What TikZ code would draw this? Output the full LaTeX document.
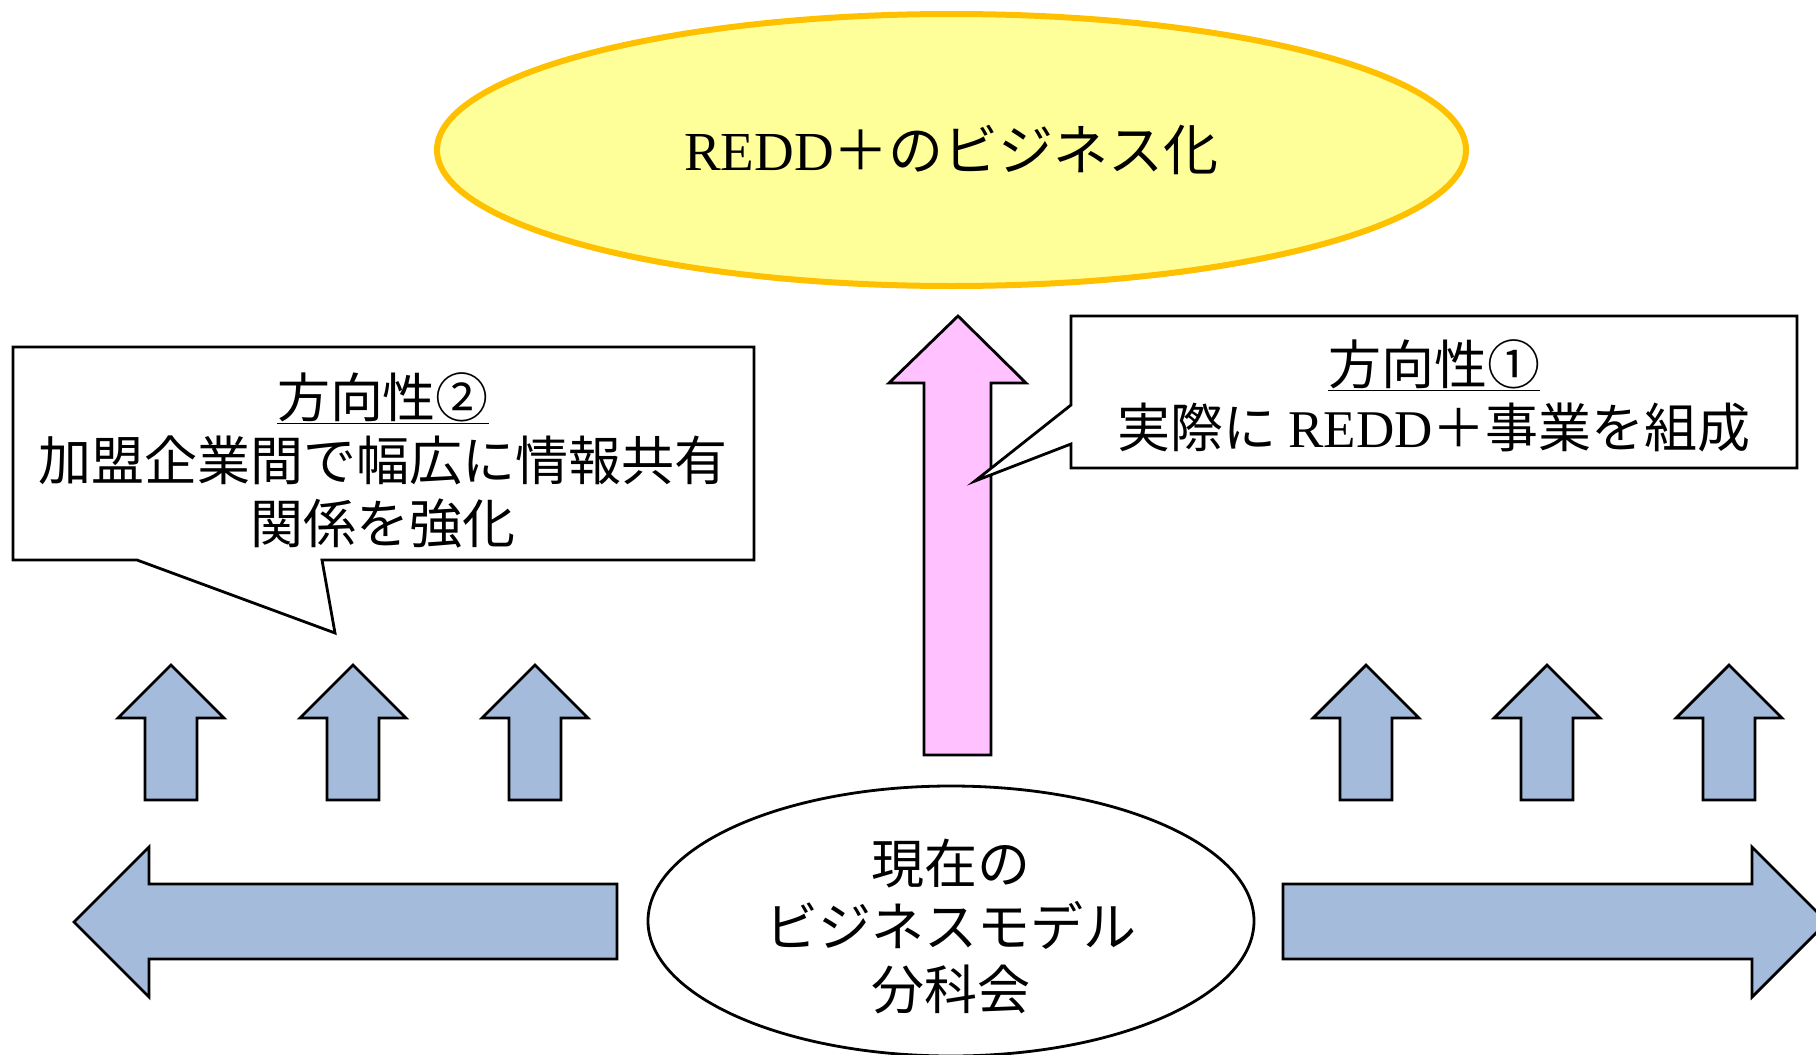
\documentclass[tikz,border=0pt]{standalone}
\usepackage{fontspec}
\setmainfont{Liberation Serif}
\newfontfamily\jp{Noto Sans CJK JP}
\usetikzlibrary{shapes.geometric}
\definecolor{arrowblue}{HTML}{A4BBDC}
\definecolor{arrowpink}{HTML}{FFC1FF}
\definecolor{goalfill}{HTML}{FFFF99}
\definecolor{goalline}{HTML}{FFC000}
\tikzset{
  outline/.style={draw=black, line width=2.8pt, line join=miter},
  bluearrow/.style={outline, fill=arrowblue},
  pinkarrow/.style={outline, fill=arrowpink},
  bigtext/.style={font=\jp\fontsize{53pt}{63pt}\selectfont, align=center, inner sep=0pt},
  uparrowpic/.pic={\draw[bluearrow] (0,0) -- (53,53) -- (26,53) -- (26,135) -- (-26,135) -- (-26,53) -- (-53,53) -- cycle;}
}
\begin{document}
\begin{tikzpicture}[x=1pt,y=-1pt]
\useasboundingbox (0,0) rectangle (1816,1055);
\clip (0,0) rectangle (1816,1055);

% goal ellipse
\node[ellipse, draw=goalline, line width=6pt, fill=goalfill, minimum width=1029pt, minimum height=272pt, inner sep=0pt,
      font=\jp\fontsize{55pt}{63pt}\selectfont] (goal) at (951.5,150) {{\rmfamily REDD}＋のビジネス化};

% pink arrow
\draw[pinkarrow] (958,316) -- (1026,383) -- (991,383) -- (991,755) -- (924,755) -- (924,383) -- (889,383) -- cycle;

% callout 1
\draw[outline, fill=white] (1071,316) -- (1797,316) -- (1797,468) -- (1071,468) -- (1071,444) -- (975,481) -- (1071,405) -- cycle;
\node[bigtext] (dir1) at (1434,396) {\underline{方向性①}\\実際に {\rmfamily REDD}＋事業を組成};

% callout 2
\draw[outline, fill=white] (13,347) -- (754,347) -- (754,560) -- (322,560) -- (335,633) -- (137,560) -- (13,560) -- cycle;
\node[bigtext] (dir2) at (383,460) {\underline{方向性②}\\加盟企業間で幅広に情報共有\\関係を強化};

% small up arrows
\pic at (171,665) {uparrowpic};
\pic at (353,665) {uparrowpic};
\pic at (535,665) {uparrowpic};
\pic at (1366,665) {uparrowpic};
\pic at (1547,665) {uparrowpic};
\pic at (1729,665) {uparrowpic};

% big horizontal arrows
\draw[bluearrow] (74,922) -- (149,847) -- (149,884) -- (617,884) -- (617,959) -- (149,959) -- (149,997) -- cycle;
\draw[bluearrow] (1827,922) -- (1752,847) -- (1752,884) -- (1283,884) -- (1283,959) -- (1752,959) -- (1752,997) -- cycle;

% current ellipse
\node[ellipse, outline, fill=white, minimum width=606pt, minimum height=270pt, inner sep=0pt] (current) at (951,921) {};
\node[bigtext] (currenttext) at (951,926) {現在の\\ビジネスモデル\\分科会};
\end{tikzpicture}
\end{document}
